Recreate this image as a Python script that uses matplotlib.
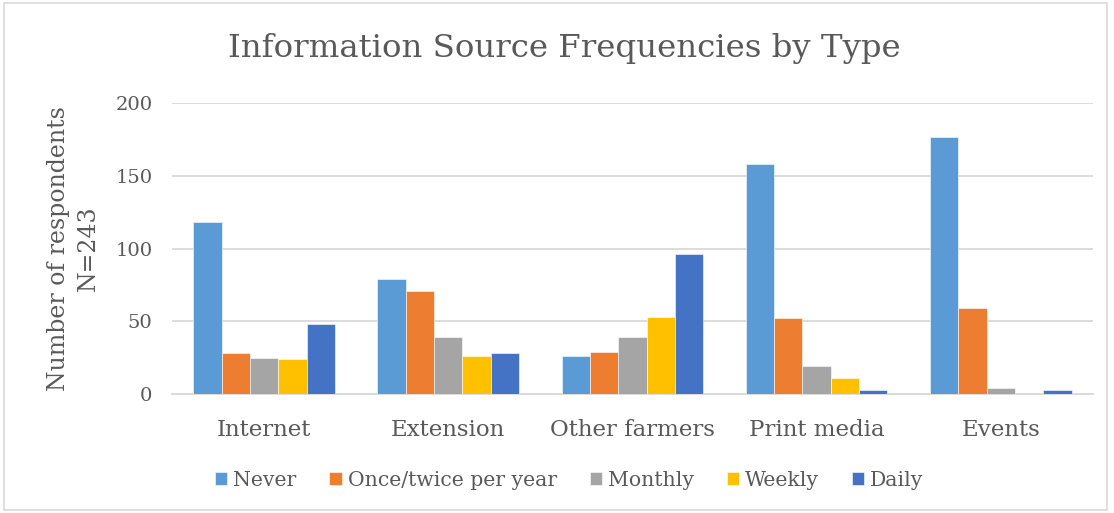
import matplotlib.pyplot as plt
import numpy as np
from matplotlib.patches import Rectangle

plt.rcParams['font.family'] = ['DejaVu Serif']

categories = ["Internet", "Extension", "Other farmers", "Print media", "Events"]
never = [118, 79, 26, 158, 177]
once_twice = [28, 71, 29, 52, 59]
monthly = [25, 39, 39, 19, 4]
weekly = [24, 26, 53, 11, 0]
daily = [48, 28, 96, 3, 3]

series = [("Never", never, "#5B9BD5"),
          ("Once/twice per year", once_twice, "#ED7D31"),
          ("Monthly", monthly, "#A5A5A5"),
          ("Weekly", weekly, "#FFC000"),
          ("Daily", daily, "#4472C4")]

text_col = "#595959"
grid_col = "#D9D9D9"

fig = plt.figure(figsize=(11.14, 5.13), dpi=100)
ax = fig.add_axes([0.1544, 0.232, 0.8266, 0.567])

x = np.arange(len(categories))
w = 1 / 6.5
for i, (name, vals, col) in enumerate(series):
    ax.bar(x + (i - 2) * w, vals, w, color=col, label=name,
           edgecolor="white", linewidth=0.4, zorder=3)

ax.set_xlim(-0.5, 4.5)
ax.set_ylim(0, 200)
ax.set_yticks([0, 50, 100, 150, 200])
ax.set_xticks(x)
ax.set_xticklabels(categories)
ax.yaxis.grid(True, color=grid_col, linewidth=1.3, zorder=0)
ax.set_axisbelow(True)
for s in ["top", "right", "left"]:
    ax.spines[s].set_visible(False)
ax.spines["bottom"].set_color(grid_col)
ax.spines["bottom"].set_linewidth(1.3)
ax.tick_params(axis="both", length=0, colors=text_col)
ax.tick_params(axis="y", labelsize=14, pad=14)
ax.tick_params(axis="x", labelsize=16.5, pad=18)

ax.set_ylabel("Number of respondents\nN=243", fontsize=17, color=text_col,
              labelpad=11, linespacing=1.4)
fig.text(0.507, 0.906, "Information Source Frequencies by Type", fontsize=23.3,
         color=text_col, ha="center", va="center")

fig.legend(loc="center", bbox_to_anchor=(0.511, 0.064), ncol=5, frameon=False,
           fontsize=14.7, handlelength=0.6, handleheight=0.6, handletextpad=0.3,
           columnspacing=1.6, labelcolor=text_col)

fig.patches.append(Rectangle((0.004, 0.006), 0.99, 0.988, transform=fig.transFigure,
                             fill=False, edgecolor="#D9D9D9", linewidth=1.2))

fig.savefig("out.png", dpi=100)
